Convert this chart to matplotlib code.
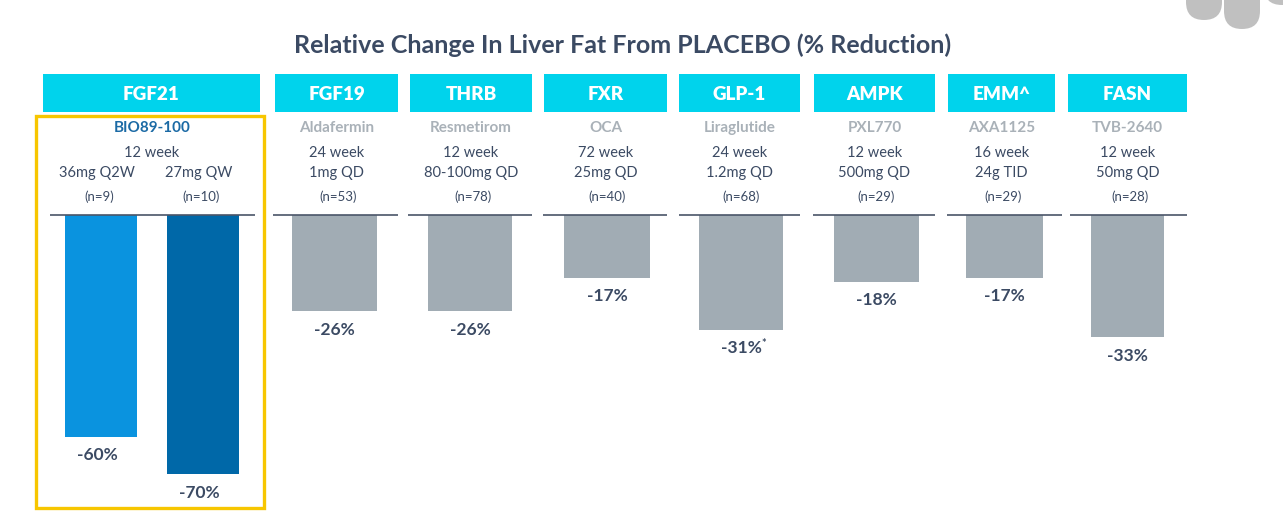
import matplotlib.pyplot as plt
from matplotlib.patches import Rectangle, FancyBboxPatch

# data
targets = ["FGF21", "FGF19", "THRB", "FXR", "GLP-1", "AMPK", "EMM^", "FASN"]
compounds = ["BIO89-100", "Aldafermin", "Resmetirom", "OCA", "Liraglutide",
             "PXL770", "AXA1125", "TVB-2640"]
durations = ["12 week", "24 week", "12 week", "72 week", "24 week",
             "12 week", "16 week", "12 week"]
bio_doses = ["36mg Q2W", "27mg QW"]
bio_n = [9, 10]
bio_values = [-60, -70]
other_doses = ["1mg QD", "80-100mg QD", "25mg QD", "1.2mg QD", "500mg QD",
               "24g TID", "50mg QD"]
other_n = [53, 78, 40, 68, 29, 29, 28]
other_values = [-26, -26, -17, -31, -18, -17, -33]
other_notes = ["", "", "", "*", "", "", ""]

# layout (pixels, figure 1283x530)
W, H = 1283, 530
BASE = 215          # baseline pixel row
PXPCT = 3.7         # pixels per percent
box_x = [(43, 260), (275, 398), (410, 532), (544, 667), (679, 800),
         (814, 935), (948, 1055), (1068, 1187)]
line_x = [(50, 255), (273, 398), (408, 532), (543, 667), (679, 800),
          (813, 935), (947, 1062), (1070, 1187)]
bio_x = [101, 203]
bio_w = 72
bar_x = [334, 470, 607, 741, 876, 1004, 1127]
bar_w = [85, 84, 86, 84, 85, 77, 73]

CYAN = "#00d3ec"
NAVY = "#3b4a63"
GRAY_BAR = "#a1acb4"
GRAY_TXT = "#a9b1b8"
plt.rcParams["font.family"] = ["Lato", "DejaVu Sans"]


def py(y):
    # pixel row -> percent value on the axis
    return (BASE - y) / PXPCT


fig = plt.figure(figsize=(W / 100, H / 100), dpi=100)
ax = fig.add_axes([0, 0, 1, 1])
ax.set_xlim(0, W)
ax.set_ylim(py(H), py(0))
ax.axis("off")

ax.text(623, py(45), "Relative Change In Liver Fat From PLACEBO (% Reduction)",
        ha="center", va="center", fontsize=18, fontweight="bold", color=NAVY)

# header boxes
for (x0, x1), t in zip(box_x, targets):
    ax.add_patch(Rectangle((x0, py(112)), x1 - x0, py(74) - py(112),
                           facecolor=CYAN, edgecolor="none"))
    ax.text((x0 + x1) / 2, py(94), t, ha="center", va="center",
            fontsize=13.5, fontweight="heavy", color="white")

# baselines
for x0, x1 in line_x:
    ax.plot([x0, x1], [0, 0], color="#4a5568", lw=1.2, solid_capstyle="butt")

# FGF21 / BIO89-100 group
ax.add_patch(Rectangle((36, py(508)), 228, py(116) - py(508), fill=False,
                       edgecolor="#f7c600", lw=2.4))
ax.text(152, py(128), compounds[0], ha="center", va="center", fontsize=11,
        fontweight="bold", color="#1b6aa5")
ax.text(152, py(153), durations[0], ha="center", va="center", fontsize=10.5,
        color=NAVY)
ax.bar(bio_x, bio_values, width=bio_w, color=["#0a93df", "#0068a8"])
for x, d, n, v in zip(bio_x, bio_doses, bio_n, bio_values):
    ax.text(x - 4, py(173), d, ha="center", va="center", fontsize=10.5,
            color=NAVY)
    ax.text(x - 2, py(197), f"(n={n})", ha="center", va="center", fontsize=9.5,
            color=NAVY)
    ax.text(x - 4, v - 5, f"{v}%", ha="center", va="center", fontsize=12.5,
            fontweight="bold", color=NAVY)

# other programs
ax.bar(bar_x, other_values, width=bar_w, color=GRAY_BAR)
for i, (x, v) in enumerate(zip(bar_x, other_values)):
    cx = sum(box_x[i + 1]) / 2
    ax.text(cx, py(128), compounds[i + 1], ha="center", va="center",
            fontsize=11, fontweight="bold", color=GRAY_TXT)
    ax.text(cx, py(153), durations[i + 1], ha="center", va="center",
            fontsize=10.5, color=NAVY)
    ax.text(cx, py(173), other_doses[i], ha="center", va="center",
            fontsize=10.5, color=NAVY)
    ax.text(cx + 2, py(197), f"(n={other_n[i]})", ha="center", va="center",
            fontsize=9.5, color=NAVY)
    ax.text(x, v - 5, f"{v}%", ha="center", va="center", fontsize=12.5,
            fontweight="bold", color=NAVY)
    if other_notes[i]:
        ax.text(x + 20, v - 3.8, other_notes[i], ha="left", va="center",
                fontsize=8, fontweight="bold", color=NAVY)

# logo fragment top right
for x0, w, yb in [(1186, 36, 20), (1224, 36, 29), (1264, 36, 5)]:
    ax.add_patch(FancyBboxPatch((x0, py(yb)), w, py(-40) - py(yb),
                                boxstyle=f"round,pad=0,rounding_size={w / 2}",
                                mutation_aspect=1 / PXPCT,
                                facecolor="#c0c0c0", edgecolor="none"))

fig.savefig("out.png", dpi=100)
